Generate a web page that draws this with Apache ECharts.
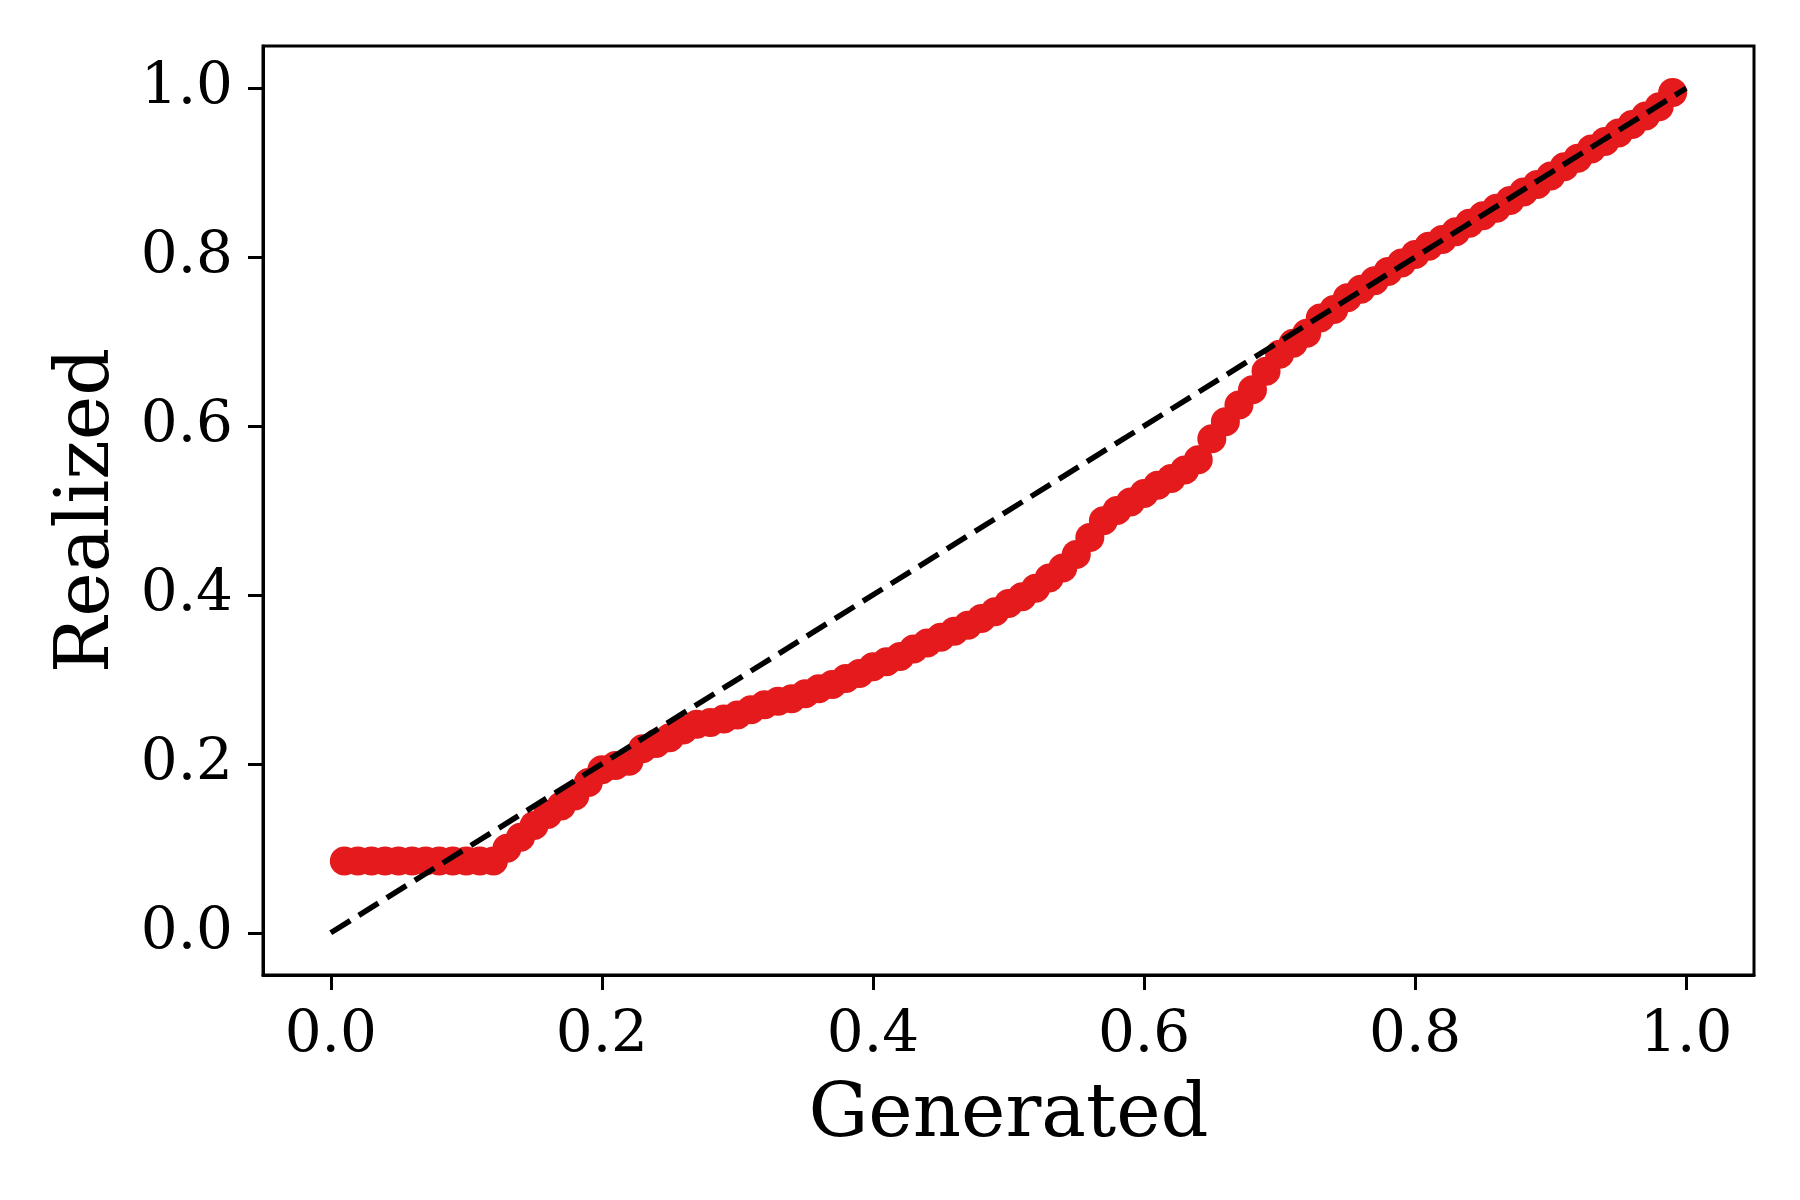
<!DOCTYPE html>
<html>
<head>
<meta charset="utf-8">
<script src="https://cdn.jsdelivr.net/npm/echarts@6/dist/echarts.min.js"></script>
<style>
html,body{margin:0;padding:0;background:#fff;}
#chart{width:1800px;height:1200px;}
</style>
</head>
<body>
<div id="chart"></div>
<script>
// Data
const generated = [0.01,0.02,0.03,0.04,0.05,0.06,0.07,0.08,0.09,0.10,
  0.11,0.12,0.13,0.14,0.15,0.16,0.17,0.18,0.19,0.20,
  0.21,0.22,0.23,0.24,0.25,0.26,0.27,0.28,0.29,0.30,
  0.31,0.32,0.33,0.34,0.35,0.36,0.37,0.38,0.39,0.40,
  0.41,0.42,0.43,0.44,0.45,0.46,0.47,0.48,0.49,0.50,
  0.51,0.52,0.53,0.54,0.55,0.56,0.57,0.58,0.59,0.60,
  0.61,0.62,0.63,0.64,0.65,0.66,0.67,0.68,0.69,0.70,
  0.71,0.72,0.73,0.74,0.75,0.76,0.77,0.78,0.79,0.80,
  0.81,0.82,0.83,0.84,0.85,0.86,0.87,0.88,0.89,0.90,
  0.91,0.92,0.93,0.94,0.95,0.96,0.97,0.98,0.99];
const realized = [0.085,0.085,0.085,0.085,0.085,0.085,0.085,0.085,0.085,0.085,
  0.085,0.085,0.100,0.113,0.127,0.140,0.150,0.162,0.178,0.193,
  0.198,0.203,0.218,0.224,0.231,0.240,0.247,0.249,0.253,0.258,
  0.264,0.270,0.274,0.277,0.283,0.289,0.294,0.301,0.307,0.315,
  0.321,0.327,0.336,0.343,0.350,0.357,0.364,0.372,0.380,0.390,
  0.398,0.408,0.420,0.432,0.448,0.468,0.488,0.500,0.510,0.520,
  0.530,0.538,0.548,0.560,0.585,0.605,0.625,0.643,0.665,0.685,
  0.698,0.710,0.728,0.738,0.752,0.762,0.772,0.783,0.793,0.803,
  0.813,0.821,0.830,0.840,0.849,0.858,0.867,0.877,0.886,0.896,
  0.907,0.917,0.928,0.937,0.947,0.957,0.967,0.978,0.995];
const diagonalX = [0, 1];
const diagonalY = [0, 1];
const tickValues = [0.0, 0.2, 0.4, 0.6, 0.8, 1.0];
const xLabel = 'Generated';
const yLabel = 'Realized';

const font = 'DejaVu Serif';
const chart = echarts.init(document.getElementById('chart'), null, {renderer: 'canvas'});

function axisCommon() {
  return {
    type: 'value',
    min: -0.05,
    max: 1.05,
    nameLocation: 'middle',
    nameTextStyle: {fontFamily: font, fontSize: 75, color: '#000'},
    axisLine: {show: true, onZero: false, lineStyle: {color: '#000', width: 3}},
    axisTick: {show: true, length: 15, lineStyle: {color: '#000', width: 3}, customValues: tickValues},
    axisLabel: {
      fontFamily: font, fontSize: 58, color: '#000', margin: 29,
      customValues: tickValues,
      formatter: v => v.toFixed(1)
    },
    splitLine: {show: false}
  };
}

const xAxis = axisCommon();
xAxis.name = xLabel;
xAxis.nameGap = 104;
xAxis.axisLabel.margin = 32;
const yAxis = axisCommon();
yAxis.name = yLabel;
yAxis.nameGap = 137;
yAxis.nameRotate = 90;
yAxis.axisLabel.margin = 30;

const option = {
  backgroundColor: '#fff',
  animation: false,
  grid: {left: 263, right: 46, top: 46, bottom: 225, show: true, borderColor: '#000', borderWidth: 3, backgroundColor: 'transparent'},
  xAxis: xAxis,
  yAxis: yAxis,
  series: [
    {
      type: 'scatter',
      data: generated.map((x, i) => [x, realized[i]]),
      symbol: 'circle',
      symbolSize: 29,
      itemStyle: {color: '#e41a1c', opacity: 1},
      z: 2
    },
    {
      type: 'line',
      data: diagonalX.map((x, i) => [x, diagonalY[i]]),
      showSymbol: false,
      symbol: 'none',
      lineStyle: {color: '#000', width: 5.5, type: [23, 10]},
      z: 3
    }
  ]
};
chart.setOption(option);
</script>
</body>
</html>
